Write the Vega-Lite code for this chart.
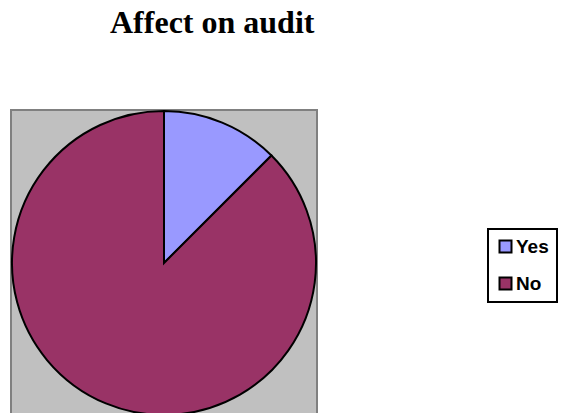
{
  "$schema": "https://vega.github.io/schema/vega-lite/v6.json",
  "width": 306,
  "height": 306,
  "autosize": {"type": "none"},
  "padding": {"left": 11, "top": 110, "right": 249, "bottom": 0},
  "background": "white",
  "view": {"fill": "#C0C0C0", "stroke": "#808080", "strokeWidth": 2},
  "title": {
    "text": "Affect on audit",
    "font": "Liberation Serif",
    "fontSize": 32,
    "fontWeight": "bold",
    "color": "black",
    "anchor": "start",
    "frame": "group",
    "dx": 99,
    "offset": 67
  },
  "data": {
    "values": [
      {"answer": "Yes", "share": 12.5},
      {"answer": "No", "share": 87.5}
    ]
  },
  "mark": {"type": "arc", "outerRadius": 152, "stroke": "black", "strokeWidth": 2},
  "encoding": {
    "theta": {"field": "share", "type": "quantitative", "stack": true},
    "order": {"field": "answer", "sort": "descending"},
    "color": {
      "field": "answer",
      "type": "nominal",
      "sort": ["Yes", "No"],
      "scale": {"domain": ["Yes", "No"], "range": ["#9999FF", "#993366"]},
      "legend": {
        "title": null,
        "orient": "none",
        "legendX": 477,
        "legendY": 119,
        "padding": 8,
        "strokeColor": "black",
        "symbolType": "square",
        "symbolSize": 144,
        "symbolStrokeColor": "black",
        "symbolStrokeWidth": 2,
        "labelFont": "Liberation Sans",
        "labelFontSize": 19,
        "labelFontWeight": "bold",
        "labelColor": "black",
        "labelOffset": 1,
        "rowPadding": 16,
        "encode": {
          "legend": {
            "update": {
              "strokeWidth": {"value": 2},
              "width": {"value": 82},
              "height": {"value": 52}
            }
          }
        }
      }
    }
  }
}
